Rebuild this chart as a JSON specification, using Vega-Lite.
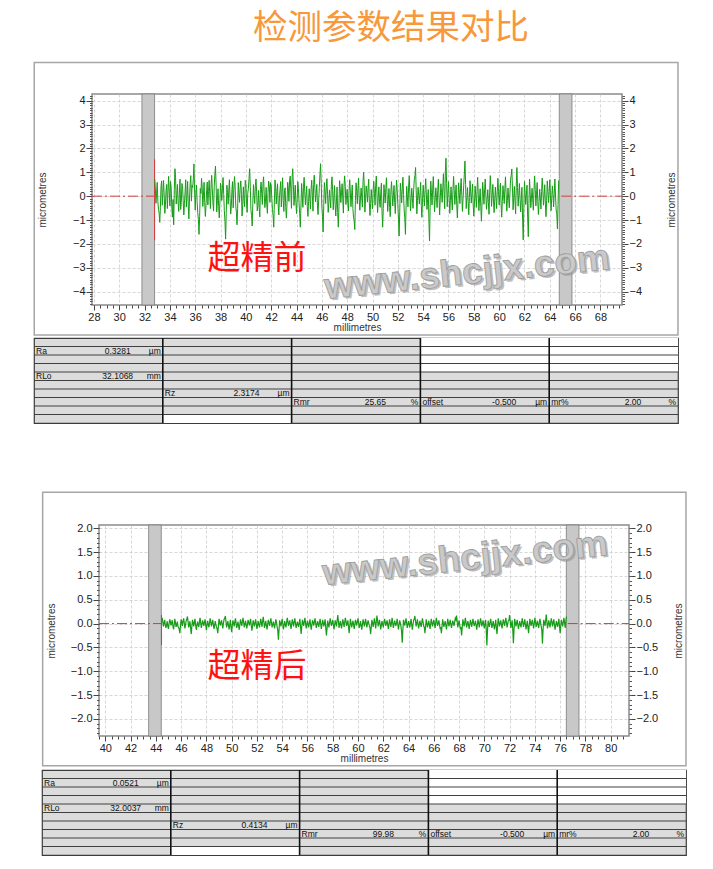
{
"$schema": "https://vega.github.io/schema/vega-lite/v6.json",
"background": "white",
"padding": {"left": 32, "top": 11, "right": 8, "bottom": 4},
"title": {"text": "检测参数结果对比", "font": "Noto Sans CJK SC", "fontSize": 34.5, "fontWeight": "normal", "color": "#F7983A", "anchor": "middle", "dx": 31, "offset": 14},
"config": {"view": {"stroke": null}, "font": "Liberation Sans", "axis": {"labelFont": "Liberation Sans", "titleFont": "Liberation Sans"}},
"datasets": {
"before": [
{"x":32.8,"y":0.72},{"x":32.9,"y":-0.30},{"x":33.0,"y":0.58},{"x":33.1,"y":-0.55},{"x":33.2,"y":-1.10},{"x":33.3,"y":0.41},{"x":33.4,"y":-0.38},{"x":33.5,"y":0.66},{"x":33.6,"y":-0.72},{"x":33.7,"y":0.25},
{"x":33.8,"y":-0.52},{"x":33.9,"y":0.83},{"x":34.0,"y":-0.41},{"x":34.1,"y":0.37},{"x":34.2,"y":-0.88},{"x":34.3,"y":-1.20},{"x":34.4,"y":1.15},{"x":34.5,"y":-0.33},{"x":34.6,"y":0.49},{"x":34.7,"y":-0.64},
{"x":34.8,"y":0.71},{"x":34.9,"y":-0.27},{"x":35.0,"y":0.44},{"x":35.1,"y":-0.79},{"x":35.2,"y":0.18},{"x":35.3,"y":-0.46},{"x":35.4,"y":0.62},{"x":35.5,"y":-0.95},{"x":35.6,"y":0.53},{"x":35.7,"y":-0.21},
{"x":35.8,"y":0.36},{"x":35.9,"y":1.35},{"x":36.0,"y":-0.58},{"x":36.1,"y":0.47},{"x":36.2,"y":-0.69},{"x":36.3,"y":-1.60},{"x":36.4,"y":0.32},{"x":36.5,"y":0.74},{"x":36.6,"y":-0.43},{"x":36.7,"y":0.58},
{"x":36.8,"y":-0.85},{"x":36.9,"y":0.22},{"x":37.0,"y":-0.37},{"x":37.1,"y":0.66},{"x":37.2,"y":-0.52},{"x":37.3,"y":0.87},{"x":37.4,"y":-0.29},{"x":37.5,"y":0.41},{"x":37.6,"y":1.26},{"x":37.7,"y":-0.66},
{"x":37.8,"y":0.31},{"x":37.9,"y":-0.91},{"x":38.0,"y":0.55},{"x":38.1,"y":-0.18},{"x":38.2,"y":0.78},{"x":38.3,"y":-0.61},{"x":38.4,"y":-1.80},{"x":38.5,"y":0.46},{"x":38.6,"y":-0.34},{"x":38.7,"y":0.69},
{"x":38.8,"y":-0.75},{"x":38.9,"y":0.27},{"x":39.0,"y":-0.49},{"x":39.1,"y":0.82},{"x":39.2,"y":-0.38},{"x":39.3,"y":-1.20},{"x":39.4,"y":0.57},{"x":39.5,"y":-0.26},{"x":39.6,"y":0.64},{"x":39.7,"y":-0.83},
{"x":39.8,"y":0.39},{"x":39.9,"y":-0.44},{"x":40.0,"y":0.51},{"x":40.1,"y":-0.68},{"x":40.2,"y":0.33},{"x":40.3,"y":1.15},{"x":40.4,"y":-0.57},{"x":40.5,"y":-1.25},{"x":40.6,"y":0.48},{"x":40.7,"y":-0.31},
{"x":40.8,"y":0.72},{"x":40.9,"y":-0.62},{"x":41.0,"y":0.24},{"x":41.1,"y":-0.87},{"x":41.2,"y":0.59},{"x":41.3,"y":-0.35},{"x":41.4,"y":0.81},{"x":41.5,"y":-0.48},{"x":41.6,"y":0.37},{"x":41.7,"y":-0.72},
{"x":41.8,"y":0.63},{"x":41.9,"y":-0.26},{"x":42.0,"y":0.45},{"x":42.1,"y":-0.56},{"x":42.2,"y":-1.30},{"x":42.3,"y":0.68},{"x":42.4,"y":-0.33},{"x":42.5,"y":0.52},{"x":42.6,"y":-0.79},{"x":42.7,"y":0.29},
{"x":42.8,"y":-0.45},{"x":42.9,"y":0.77},{"x":43.0,"y":-0.64},{"x":43.1,"y":0.35},{"x":43.2,"y":-0.92},{"x":43.3,"y":0.58},{"x":43.4,"y":-0.22},{"x":43.5,"y":0.84},{"x":43.6,"y":-0.51},{"x":43.7,"y":1.15},
{"x":43.8,"y":-0.39},{"x":43.9,"y":0.46},{"x":44.0,"y":-0.73},{"x":44.1,"y":0.61},{"x":44.2,"y":-0.28},{"x":44.3,"y":-1.30},{"x":44.4,"y":0.53},{"x":44.5,"y":-0.47},{"x":44.6,"y":0.79},{"x":44.7,"y":-0.36},
{"x":44.8,"y":0.42},{"x":44.9,"y":-0.85},{"x":45.0,"y":0.31},{"x":45.1,"y":-0.54},{"x":45.2,"y":0.67},{"x":45.3,"y":-0.63},{"x":45.4,"y":0.88},{"x":45.5,"y":-0.24},{"x":45.6,"y":0.49},{"x":45.7,"y":-0.77},
{"x":45.8,"y":0.36},{"x":45.9,"y":1.36},{"x":46.0,"y":-0.42},{"x":46.1,"y":-1.50},{"x":46.2,"y":0.57},{"x":46.3,"y":-0.31},{"x":46.4,"y":0.73},{"x":46.5,"y":-0.68},{"x":46.6,"y":0.26},{"x":46.7,"y":-0.49},
{"x":46.8,"y":0.81},{"x":46.9,"y":-0.57},{"x":47.0,"y":0.44},{"x":47.1,"y":-0.83},{"x":47.2,"y":0.38},{"x":47.3,"y":-1.30},{"x":47.4,"y":0.65},{"x":47.5,"y":-0.27},{"x":47.6,"y":0.52},{"x":47.7,"y":-0.71},
{"x":47.8,"y":0.85},{"x":47.9,"y":-0.35},{"x":48.0,"y":0.29},{"x":48.1,"y":-0.62},{"x":48.2,"y":0.69},{"x":48.3,"y":-0.44},{"x":48.4,"y":0.47},{"x":48.5,"y":-0.88},{"x":48.6,"y":-1.40},{"x":48.7,"y":0.56},
{"x":48.8,"y":-0.32},{"x":48.9,"y":0.76},{"x":49.0,"y":-0.59},{"x":49.1,"y":0.34},{"x":49.2,"y":-0.46},{"x":49.3,"y":1.00},{"x":49.4,"y":-0.67},{"x":49.5,"y":0.43},{"x":49.6,"y":-0.25},{"x":49.7,"y":0.71},
{"x":49.8,"y":-0.81},{"x":49.9,"y":0.28},{"x":50.0,"y":-0.53},{"x":50.1,"y":0.62},{"x":50.2,"y":-0.38},{"x":50.3,"y":0.84},{"x":50.4,"y":-0.69},{"x":50.5,"y":0.39},{"x":50.6,"y":-0.47},{"x":50.7,"y":0.55},
{"x":50.8,"y":-1.30},{"x":50.9,"y":0.48},{"x":51.0,"y":-0.29},{"x":51.1,"y":0.77},{"x":51.2,"y":-0.64},{"x":51.3,"y":0.32},{"x":51.4,"y":-0.86},{"x":51.5,"y":0.61},{"x":51.6,"y":-0.41},{"x":51.7,"y":0.45},
{"x":51.8,"y":-0.73},{"x":51.9,"y":0.67},{"x":52.0,"y":-0.36},{"x":52.1,"y":-1.67},{"x":52.2,"y":0.54},{"x":52.3,"y":-0.28},{"x":52.4,"y":0.79},{"x":52.5,"y":-0.58},{"x":52.6,"y":-1.60},{"x":52.7,"y":0.41},
{"x":52.8,"y":-0.45},{"x":52.9,"y":0.86},{"x":53.0,"y":-0.62},{"x":53.1,"y":0.33},{"x":53.2,"y":-0.51},{"x":53.3,"y":0.69},{"x":53.4,"y":1.20},{"x":53.5,"y":-0.74},{"x":53.6,"y":0.37},{"x":53.7,"y":-0.33},
{"x":53.8,"y":0.58},{"x":53.9,"y":-0.89},{"x":54.0,"y":0.46},{"x":54.1,"y":-0.41},{"x":54.2,"y":0.73},{"x":54.3,"y":-0.56},{"x":54.4,"y":0.28},{"x":54.5,"y":-1.88},{"x":54.6,"y":0.63},{"x":54.7,"y":-0.37},
{"x":54.8,"y":0.82},{"x":54.9,"y":-0.66},{"x":55.0,"y":0.35},{"x":55.1,"y":-0.48},{"x":55.2,"y":0.71},{"x":55.3,"y":-0.79},{"x":55.4,"y":0.52},{"x":55.5,"y":-0.26},{"x":55.6,"y":0.94},{"x":55.7,"y":-0.53},
{"x":55.8,"y":1.59},{"x":55.9,"y":-0.44},{"x":56.0,"y":0.61},{"x":56.1,"y":-0.72},{"x":56.2,"y":0.39},{"x":56.3,"y":-0.58},{"x":56.4,"y":0.83},{"x":56.5,"y":-0.35},{"x":56.6,"y":0.47},{"x":56.7,"y":-0.91},
{"x":56.8,"y":0.56},{"x":56.9,"y":-0.31},{"x":57.0,"y":0.74},{"x":57.1,"y":-0.64},{"x":57.2,"y":0.43},{"x":57.3,"y":1.47},{"x":57.4,"y":-0.52},{"x":57.5,"y":0.36},{"x":57.6,"y":-0.78},{"x":57.7,"y":0.65},
{"x":57.8,"y":-0.29},{"x":57.9,"y":0.51},{"x":58.0,"y":-0.84},{"x":58.1,"y":0.42},{"x":58.2,"y":-0.47},{"x":58.3,"y":0.79},{"x":58.4,"y":-0.61},{"x":58.5,"y":0.31},{"x":58.6,"y":-1.05},{"x":58.7,"y":0.58},
{"x":58.8,"y":-0.34},{"x":58.9,"y":0.72},{"x":59.0,"y":-0.55},{"x":59.1,"y":0.27},{"x":59.2,"y":-0.76},{"x":59.3,"y":0.86},{"x":59.4,"y":-0.43},{"x":59.5,"y":0.49},{"x":59.6,"y":-0.69},{"x":59.7,"y":0.38},
{"x":59.8,"y":-0.52},{"x":59.9,"y":0.75},{"x":60.0,"y":-0.37},{"x":60.1,"y":0.55},{"x":60.2,"y":-0.88},{"x":60.3,"y":0.44},{"x":60.4,"y":-0.31},{"x":60.5,"y":0.81},{"x":60.6,"y":-0.63},{"x":60.7,"y":0.34},
{"x":60.8,"y":-0.49},{"x":60.9,"y":0.68},{"x":61.0,"y":1.14},{"x":61.1,"y":-0.57},{"x":61.2,"y":0.41},{"x":61.3,"y":-0.74},{"x":61.4,"y":1.20},{"x":61.5,"y":-0.42},{"x":61.6,"y":0.53},{"x":61.7,"y":-0.66},
{"x":61.8,"y":0.37},{"x":61.9,"y":-1.83},{"x":62.0,"y":0.62},{"x":62.1,"y":-0.35},{"x":62.2,"y":0.46},{"x":62.3,"y":-1.70},{"x":62.4,"y":0.71},{"x":62.5,"y":-0.48},{"x":62.6,"y":0.33},{"x":62.7,"y":-0.59},
{"x":62.8,"y":0.85},{"x":62.9,"y":-0.41},{"x":63.0,"y":0.57},{"x":63.1,"y":-0.77},{"x":63.2,"y":0.29},{"x":63.3,"y":-0.54},{"x":63.4,"y":0.76},{"x":63.5,"y":-0.38},{"x":63.6,"y":0.48},{"x":63.7,"y":-0.86},
{"x":63.8,"y":0.64},{"x":63.9,"y":-0.27},{"x":64.0,"y":0.69},{"x":64.1,"y":-0.61},{"x":64.2,"y":0.43},{"x":64.3,"y":-0.45},{"x":64.4,"y":0.72},{"x":64.5,"y":-0.58},{"x":64.6,"y":-1.37},{"x":64.7,"y":0.66},
{"x":32.85,"y":0.35},{"x":32.95,"y":0.12},{"x":33.05,"y":-0.22},{"x":33.15,"y":-0.71},{"x":33.25,"y":-0.48},{"x":33.35,"y":0.64},{"x":33.45,"y":0.15},{"x":33.55,"y":0.05},{"x":33.65,"y":-0.33},{"x":33.75,"y":0.49},
{"x":33.85,"y":0.21},{"x":33.95,"y":0.17},{"x":34.05,"y":0.62},{"x":34.15,"y":-0.45},{"x":34.25,"y":-0.14},{"x":34.35,"y":0.28},{"x":34.45,"y":0.77},{"x":34.55,"y":0.08},{"x":34.65,"y":-0.29},{"x":34.75,"y":0.12},
{"x":34.85,"y":-0.56},{"x":34.95,"y":0.53},{"x":35.05,"y":-0.18},{"x":35.15,"y":-0.31},{"x":35.25,"y":0.69},{"x":35.35,"y":0.04},{"x":35.45,"y":-0.37},{"x":35.55,"y":-0.12},{"x":35.65,"y":0.86},{"x":35.75,"y":0.45},
{"x":35.85,"y":0.71},{"x":35.95,"y":0.26},{"x":36.05,"y":0.09},{"x":36.15,"y":-0.22},{"x":36.25,"y":-0.97},{"x":36.35,"y":-0.84},{"x":36.45,"y":0.11},{"x":36.55,"y":0.39},{"x":36.65,"y":0.02},{"x":36.75,"y":-0.28},
{"x":36.85,"y":-0.41},{"x":36.95,"y":0.59},{"x":37.05,"y":0.19},{"x":37.15,"y":0.05},{"x":37.25,"y":0.42},{"x":37.35,"y":0.31},{"x":37.45,"y":-0.63},{"x":37.55,"y":0.88},{"x":37.65,"y":0.47},{"x":37.75,"y":-0.19},
{"x":37.85,"y":-0.43},{"x":37.95,"y":-0.25},{"x":38.05,"y":0.21},{"x":38.15,"y":0.34},{"x":38.25,"y":0.07},{"x":38.35,"y":-1.05},{"x":38.45,"y":-0.72},{"x":38.55,"y":0.16},{"x":38.65,"y":0.23},{"x":38.75,"y":-0.11},
{"x":38.85,"y":-0.44},{"x":38.95,"y":0.61},{"x":39.05,"y":0.28},{"x":39.15,"y":0.46},{"x":39.25,"y":-0.67},{"x":39.35,"y":-0.52},{"x":39.45,"y":0.14},{"x":39.55,"y":0.35},{"x":39.65,"y":0.08},{"x":39.75,"y":-0.36},
{"x":39.85,"y":-0.17},{"x":39.95,"y":0.66},{"x":40.05,"y":-0.24},{"x":40.15,"y":0.12},{"x":40.25,"y":0.74},{"x":40.35,"y":0.39},{"x":40.45,"y":-0.81},{"x":40.55,"y":-0.29},{"x":40.65,"y":0.03},{"x":40.75,"y":0.44},
{"x":40.85,"y":0.18},{"x":40.95,"y":-0.38},{"x":41.05,"y":-0.46},{"x":41.15,"y":0.27},{"x":41.25,"y":0.11},{"x":41.35,"y":0.52},{"x":41.45,"y":0.09},{"x":41.55,"y":-0.21},{"x":41.65,"y":-0.33},{"x":41.75,"y":0.15},
{"x":41.85,"y":0.41},{"x":41.95,"y":0.57},{"x":42.05,"y":-0.12},{"x":42.15,"y":-0.82},{"x":42.25,"y":-0.25},{"x":42.35,"y":0.36},{"x":42.45,"y":0.19},{"x":42.55,"y":-0.35},{"x":42.65,"y":-0.08},{"x":42.75,"y":0.61},
{"x":42.85,"y":0.14},{"x":42.95,"y":-0.19},{"x":43.05,"y":0.22},{"x":43.15,"y":-0.47},{"x":43.25,"y":-0.28},{"x":43.35,"y":0.34},{"x":43.45,"y":0.63},{"x":43.55,"y":0.26},{"x":43.65,"y":0.79},{"x":43.75,"y":0.48},
{"x":43.85,"y":0.03},{"x":43.95,"y":-0.26},{"x":44.05,"y":-0.15},{"x":44.15,"y":0.32},{"x":44.25,"y":-0.74},{"x":44.35,"y":-0.41},{"x":44.45,"y":0.09},{"x":44.55,"y":0.37},{"x":44.65,"y":0.18},{"x":44.75,"y":0.05},
{"x":44.85,"y":-0.44},{"x":44.95,"y":-0.23},{"x":45.05,"y":-0.09},{"x":45.15,"y":0.29},{"x":45.25,"y":0.04},{"x":45.35,"y":0.49},{"x":45.45,"y":0.33},{"x":45.55,"y":0.11},{"x":45.65,"y":-0.38},{"x":45.75,"y":-0.16},
{"x":45.85,"y":0.92},{"x":45.95,"y":0.54},{"x":46.05,"y":-0.86},{"x":46.15,"y":-0.39},{"x":46.25,"y":0.21},{"x":46.35,"y":0.38},{"x":46.45,"y":0.06},{"x":46.55,"y":-0.27},{"x":46.65,"y":-0.13},{"x":46.75,"y":0.47},
{"x":46.85,"y":0.25},{"x":46.95,"y":-0.05},{"x":47.05,"y":-0.34},{"x":47.15,"y":-0.24},{"x":47.25,"y":-0.69},{"x":47.35,"y":-0.44},{"x":47.45,"y":0.31},{"x":47.55,"y":0.14},{"x":47.65,"y":-0.08},{"x":47.75,"y":0.43},
{"x":47.85,"y":0.39},{"x":47.95,"y":0.02},{"x":48.05,"y":-0.31},{"x":48.15,"y":0.24},{"x":48.25,"y":0.17},{"x":48.35,"y":0.05},{"x":48.45,"y":-0.52},{"x":48.55,"y":-1.02},{"x":48.65,"y":-0.18},{"x":48.75,"y":0.21},
{"x":48.85,"y":0.33},{"x":48.95,"y":-0.12},{"x":49.05,"y":-0.08},{"x":49.15,"y":-0.07},{"x":49.25,"y":0.62},{"x":49.35,"y":0.38},{"x":49.45,"y":-0.09},{"x":49.55,"y":0.16},{"x":49.65,"y":0.35},{"x":49.75,"y":-0.28},
{"x":49.85,"y":-0.31},{"x":49.95,"y":-0.14},{"x":50.05,"y":0.27},{"x":50.15,"y":0.12},{"x":50.25,"y":0.46},{"x":50.35,"y":0.09},{"x":50.45,"y":-0.07},{"x":50.55,"y":-0.21},{"x":50.65,"y":0.13},{"x":50.75,"y":-0.63},
{"x":50.85,"y":-0.52},{"x":50.95,"y":0.15},{"x":51.05,"y":0.32},{"x":51.15,"y":0.06},{"x":51.25,"y":-0.15},{"x":51.35,"y":-0.47},{"x":51.45,"y":0.18},{"x":51.55,"y":0.08},{"x":51.65,"y":0.04},{"x":51.75,"y":-0.26},
{"x":51.85,"y":0.12},{"x":51.95,"y":0.24},{"x":52.05,"y":-0.97},{"x":52.15,"y":-0.66},{"x":52.25,"y":0.19},{"x":52.35,"y":0.31},{"x":52.45,"y":0.07},{"x":52.55,"y":-0.91},{"x":52.65,"y":-0.45},{"x":52.75,"y":-0.03},
{"x":52.85,"y":0.38},{"x":52.95,"y":0.11},{"x":53.05,"y":-0.12},{"x":53.15,"y":-0.09},{"x":53.25,"y":0.27},{"x":53.35,"y":0.86},{"x":53.45,"y":0.22},{"x":53.55,"y":-0.18},{"x":53.65,"y":0.02},{"x":53.75,"y":0.14},
{"x":53.85,"y":-0.39},{"x":53.95,"y":-0.11},{"x":54.05,"y":0.05},{"x":54.15,"y":0.28},{"x":54.25,"y":0.09},{"x":54.35,"y":-0.13},{"x":54.45,"y":-0.95},{"x":54.55,"y":-0.48},{"x":54.65,"y":0.16},{"x":54.75,"y":0.29},
{"x":54.85,"y":0.06},{"x":54.95,"y":-0.12},{"x":55.05,"y":-0.05},{"x":55.15,"y":0.24},{"x":55.25,"y":-0.03},{"x":55.35,"y":-0.08},{"x":55.45,"y":0.15},{"x":55.55,"y":0.37},{"x":55.65,"y":0.21},{"x":55.75,"y":1.02},
{"x":55.85,"y":0.53},{"x":55.95,"y":0.09},{"x":56.05,"y":-0.06},{"x":56.15,"y":-0.17},{"x":56.25,"y":-0.12},{"x":56.35,"y":0.23},{"x":56.45,"y":0.28},{"x":56.55,"y":0.07},{"x":56.65,"y":-0.36},{"x":56.75,"y":-0.19},
{"x":56.85,"y":0.14},{"x":56.95,"y":0.32},{"x":57.05,"y":0.03},{"x":57.15,"y":-0.11},{"x":57.25,"y":0.92},{"x":57.35,"y":0.49},{"x":57.45,"y":-0.07},{"x":57.55,"y":-0.22},{"x":57.65,"y":-0.06},{"x":57.75,"y":0.18},
{"x":57.85,"y":0.11},{"x":57.95,"y":-0.37},{"x":58.05,"y":-0.29},{"x":58.15,"y":0.02},{"x":58.25,"y":0.19},{"x":58.35,"y":0.08},{"x":58.45,"y":-0.12},{"x":58.55,"y":-0.43},{"x":58.65,"y":-0.24},{"x":58.75,"y":0.13},
{"x":58.85,"y":0.26},{"x":58.95,"y":0.04},{"x":59.05,"y":-0.14},{"x":59.15,"y":-0.27},{"x":59.25,"y":0.17},{"x":59.35,"y":0.29},{"x":59.45,"y":0.03},{"x":59.55,"y":-0.11},{"x":59.65,"y":-0.16},{"x":59.75,"y":-0.07},
{"x":59.85,"y":0.22},{"x":59.95,"y":0.19},{"x":60.05,"y":0.08},{"x":60.15,"y":-0.29},{"x":60.25,"y":-0.22},{"x":60.35,"y":0.06},{"x":60.45,"y":0.33},{"x":60.55,"y":0.12},{"x":60.65,"y":-0.18},{"x":60.75,"y":-0.09},
{"x":60.85,"y":0.13},{"x":60.95,"y":0.87},{"x":61.05,"y":0.35},{"x":61.15,"y":-0.07},{"x":61.25,"y":-0.21},{"x":61.35,"y":0.41},{"x":61.45,"y":0.36},{"x":61.55,"y":0.03},{"x":61.65,"y":-0.14},{"x":61.75,"y":-0.08},
{"x":61.85,"y":-0.96},{"x":61.95,"y":-0.49},{"x":62.05,"y":0.14},{"x":62.15,"y":0.06},{"x":62.25,"y":-0.88},{"x":62.35,"y":-0.31},{"x":62.45,"y":0.13},{"x":62.55,"y":-0.09},{"x":62.65,"y":-0.15},{"x":62.75,"y":0.24},
{"x":62.85,"y":0.27},{"x":62.95,"y":0.08},{"x":63.05,"y":-0.21},{"x":63.15,"y":-0.26},{"x":63.25,"y":-0.08},{"x":63.35,"y":0.19},{"x":63.45,"y":0.22},{"x":63.55,"y":0.04},{"x":63.65,"y":-0.33},{"x":63.75,"y":-0.17},
{"x":63.85,"y":0.21},{"x":63.95,"y":0.18},{"x":64.05,"y":0.02},{"x":64.15,"y":-0.09},{"x":64.25,"y":0.07},{"x":64.35,"y":0.11},{"x":64.45,"y":0.05},{"x":64.55,"y":-0.74},{"x":64.65,"y":-0.35}
],
"after": [
{"x":44.5,"y":0.12},{"x":44.6,"y":-0.06},{"x":44.7,"y":0.08},{"x":44.8,"y":-0.09},{"x":44.9,"y":0.05},{"x":45.0,"y":-0.11},{"x":45.1,"y":0.09},{"x":45.2,"y":-0.04},{"x":45.3,"y":0.07},{"x":45.4,"y":-0.12},
{"x":45.5,"y":0.10},{"x":45.6,"y":-0.07},{"x":45.7,"y":0.04},{"x":45.8,"y":-0.08},{"x":45.9,"y":-0.20},{"x":46.0,"y":0.09},{"x":46.1,"y":-0.05},{"x":46.2,"y":0.11},{"x":46.3,"y":-0.10},{"x":46.4,"y":0.06},
{"x":46.5,"y":0.15},{"x":46.6,"y":-0.08},{"x":46.7,"y":0.05},{"x":46.8,"y":-0.22},{"x":46.9,"y":0.08},{"x":47.0,"y":-0.06},{"x":47.1,"y":0.10},{"x":47.2,"y":-0.13},{"x":47.3,"y":0.04},{"x":47.4,"y":-0.07},
{"x":47.5,"y":0.12},{"x":47.6,"y":-0.09},{"x":47.7,"y":0.07},{"x":47.8,"y":-0.05},{"x":47.9,"y":0.09},{"x":48.0,"y":-0.14},{"x":48.1,"y":0.06},{"x":48.2,"y":-0.08},{"x":48.3,"y":0.11},{"x":48.4,"y":-0.06},
{"x":48.5,"y":0.08},{"x":48.6,"y":-0.11},{"x":48.7,"y":0.05},{"x":48.8,"y":-0.07},{"x":48.9,"y":-0.20},{"x":49.0,"y":0.10},{"x":49.1,"y":-0.04},{"x":49.2,"y":0.07},{"x":49.3,"y":-0.10},{"x":49.4,"y":0.09},
{"x":49.5,"y":0.16},{"x":49.6,"y":-0.08},{"x":49.7,"y":0.05},{"x":49.8,"y":-0.12},{"x":49.9,"y":0.08},{"x":50.0,"y":-0.18},{"x":50.1,"y":0.07},{"x":50.2,"y":-0.06},{"x":50.3,"y":0.11},{"x":50.4,"y":-0.09},
{"x":50.5,"y":0.04},{"x":50.6,"y":-0.13},{"x":50.7,"y":0.09},{"x":50.8,"y":-0.05},{"x":50.9,"y":0.12},{"x":51.0,"y":-0.08},{"x":51.1,"y":0.06},{"x":51.2,"y":-0.10},{"x":51.3,"y":0.08},{"x":51.4,"y":-0.04},
{"x":51.5,"y":0.10},{"x":51.6,"y":-0.15},{"x":51.7,"y":0.07},{"x":51.8,"y":-0.06},{"x":51.9,"y":0.09},{"x":52.0,"y":-0.11},{"x":52.1,"y":0.05},{"x":52.2,"y":-0.08},{"x":52.3,"y":0.10},{"x":52.4,"y":-0.07},
{"x":52.5,"y":0.14},{"x":52.6,"y":-0.09},{"x":52.7,"y":0.06},{"x":52.8,"y":-0.12},{"x":52.9,"y":0.08},{"x":53.0,"y":-0.05},{"x":53.1,"y":0.11},{"x":53.2,"y":-0.08},{"x":53.3,"y":0.04},{"x":53.4,"y":-0.10},
{"x":53.5,"y":0.09},{"x":53.6,"y":-0.07},{"x":53.7,"y":-0.34},{"x":53.8,"y":0.07},{"x":53.9,"y":-0.06},{"x":54.0,"y":0.10},{"x":54.1,"y":-0.12},{"x":54.2,"y":0.05},{"x":54.3,"y":-0.08},{"x":54.4,"y":0.12},
{"x":54.5,"y":-0.05},{"x":54.6,"y":0.07},{"x":54.7,"y":-0.11},{"x":54.8,"y":0.09},{"x":54.9,"y":-0.06},{"x":55.0,"y":0.11},{"x":55.1,"y":-0.09},{"x":55.2,"y":0.04},{"x":55.3,"y":-0.07},{"x":55.4,"y":0.10},
{"x":55.5,"y":-0.22},{"x":55.6,"y":0.08},{"x":55.7,"y":-0.05},{"x":55.8,"y":0.12},{"x":55.9,"y":-0.10},{"x":56.0,"y":0.06},{"x":56.1,"y":-0.08},{"x":56.2,"y":0.09},{"x":56.3,"y":-0.13},{"x":56.4,"y":0.07},
{"x":56.5,"y":-0.04},{"x":56.6,"y":0.11},{"x":56.7,"y":-0.09},{"x":56.8,"y":0.05},{"x":56.9,"y":-0.07},{"x":57.0,"y":0.10},{"x":57.1,"y":-0.11},{"x":57.2,"y":0.08},{"x":57.3,"y":-0.06},{"x":57.4,"y":0.09},
{"x":57.5,"y":-0.25},{"x":57.6,"y":0.06},{"x":57.7,"y":-0.08},{"x":57.8,"y":0.11},{"x":57.9,"y":-0.05},{"x":58.0,"y":0.08},{"x":58.1,"y":-0.12},{"x":58.2,"y":0.07},{"x":58.3,"y":-0.06},{"x":58.4,"y":0.18},
{"x":58.5,"y":-0.09},{"x":58.6,"y":0.05},{"x":58.7,"y":-0.10},{"x":58.8,"y":0.09},{"x":58.9,"y":-0.07},{"x":59.0,"y":0.12},{"x":59.1,"y":-0.05},{"x":59.2,"y":0.07},{"x":59.3,"y":-0.20},{"x":59.4,"y":0.10},
{"x":59.5,"y":-0.08},{"x":59.6,"y":0.06},{"x":59.7,"y":-0.11},{"x":59.8,"y":0.08},{"x":59.9,"y":-0.04},{"x":60.0,"y":0.11},{"x":60.1,"y":-0.09},{"x":60.2,"y":0.05},{"x":60.3,"y":-0.13},{"x":60.4,"y":0.09},
{"x":60.5,"y":-0.06},{"x":60.6,"y":0.10},{"x":60.7,"y":-0.08},{"x":60.8,"y":0.07},{"x":60.9,"y":-0.05},{"x":61.0,"y":-0.22},{"x":61.1,"y":0.08},{"x":61.2,"y":-0.07},{"x":61.3,"y":0.11},{"x":61.4,"y":-0.10},
{"x":61.5,"y":0.17},{"x":61.6,"y":-0.06},{"x":61.7,"y":0.08},{"x":61.8,"y":-0.12},{"x":61.9,"y":0.05},{"x":62.0,"y":-0.08},{"x":62.1,"y":0.10},{"x":62.2,"y":-0.05},{"x":62.3,"y":0.07},{"x":62.4,"y":-0.11},
{"x":62.5,"y":0.09},{"x":62.6,"y":-0.07},{"x":62.7,"y":0.12},{"x":62.8,"y":-0.09},{"x":62.9,"y":0.06},{"x":63.0,"y":-0.05},{"x":63.1,"y":0.10},{"x":63.2,"y":-0.12},{"x":63.3,"y":0.07},{"x":63.4,"y":-0.06},
{"x":63.5,"y":-0.40},{"x":63.6,"y":0.08},{"x":63.7,"y":-0.04},{"x":63.8,"y":0.11},{"x":63.9,"y":-0.09},{"x":64.0,"y":0.05},{"x":64.1,"y":-0.08},{"x":64.2,"y":0.10},{"x":64.3,"y":-0.13},{"x":64.4,"y":0.07},
{"x":64.5,"y":0.16},{"x":64.6,"y":-0.06},{"x":64.7,"y":0.09},{"x":64.8,"y":-0.10},{"x":64.9,"y":0.06},{"x":65.0,"y":-0.07},{"x":65.1,"y":0.11},{"x":65.2,"y":-0.05},{"x":65.3,"y":-0.20},{"x":65.4,"y":0.09},
{"x":65.5,"y":-0.08},{"x":65.6,"y":0.06},{"x":65.7,"y":-0.11},{"x":65.8,"y":0.10},{"x":65.9,"y":-0.06},{"x":66.0,"y":0.08},{"x":66.1,"y":-0.09},{"x":66.2,"y":0.12},{"x":66.3,"y":-0.05},{"x":66.4,"y":0.07},
{"x":66.5,"y":-0.10},{"x":66.6,"y":-0.20},{"x":66.7,"y":0.09},{"x":66.8,"y":-0.07},{"x":66.9,"y":0.05},{"x":67.0,"y":-0.12},{"x":67.1,"y":0.10},{"x":67.2,"y":-0.06},{"x":67.3,"y":0.08},{"x":67.4,"y":-0.09},
{"x":67.5,"y":0.06},{"x":67.6,"y":-0.05},{"x":67.7,"y":0.11},{"x":67.8,"y":0.17},{"x":67.9,"y":-0.08},{"x":68.0,"y":0.07},{"x":68.1,"y":-0.10},{"x":68.2,"y":-0.25},{"x":68.3,"y":0.09},{"x":68.4,"y":-0.06},
{"x":68.5,"y":0.12},{"x":68.6,"y":-0.08},{"x":68.7,"y":0.05},{"x":68.8,"y":-0.11},{"x":68.9,"y":0.08},{"x":69.0,"y":-0.07},{"x":69.1,"y":0.10},{"x":69.2,"y":-0.05},{"x":69.3,"y":0.06},{"x":69.4,"y":-0.13},
{"x":69.5,"y":0.09},{"x":69.6,"y":-0.08},{"x":69.7,"y":0.11},{"x":69.8,"y":-0.06},{"x":69.9,"y":0.07},{"x":70.0,"y":-0.10},{"x":70.1,"y":0.08},{"x":70.2,"y":-0.46},{"x":70.3,"y":0.06},{"x":70.4,"y":-0.07},
{"x":70.5,"y":0.10},{"x":70.6,"y":-0.09},{"x":70.7,"y":0.05},{"x":70.8,"y":-0.12},{"x":70.9,"y":0.08},{"x":71.0,"y":-0.22},{"x":71.1,"y":0.11},{"x":71.2,"y":-0.06},{"x":71.3,"y":0.07},{"x":71.4,"y":-0.10},
{"x":71.5,"y":0.09},{"x":71.6,"y":-0.05},{"x":71.7,"y":0.12},{"x":71.8,"y":-0.08},{"x":71.9,"y":0.06},{"x":72.0,"y":0.18},{"x":72.1,"y":-0.09},{"x":72.2,"y":0.07},{"x":72.3,"y":-0.41},{"x":72.4,"y":0.10},
{"x":72.5,"y":-0.06},{"x":72.6,"y":0.08},{"x":72.7,"y":-0.11},{"x":72.8,"y":0.05},{"x":72.9,"y":-0.08},{"x":73.0,"y":0.11},{"x":73.1,"y":-0.07},{"x":73.2,"y":0.09},{"x":73.3,"y":-0.12},{"x":73.4,"y":0.06},
{"x":73.5,"y":-0.20},{"x":73.6,"y":0.10},{"x":73.7,"y":-0.05},{"x":73.8,"y":0.08},{"x":73.9,"y":-0.10},{"x":74.0,"y":0.12},{"x":74.1,"y":-0.07},{"x":74.2,"y":0.06},{"x":74.3,"y":-0.09},{"x":74.4,"y":0.10},
{"x":74.5,"y":-0.06},{"x":74.6,"y":-0.42},{"x":74.7,"y":0.08},{"x":74.8,"y":-0.05},{"x":74.9,"y":0.19},{"x":75.0,"y":-0.10},{"x":75.1,"y":0.07},{"x":75.2,"y":-0.08},{"x":75.3,"y":0.11},{"x":75.4,"y":-0.06},
{"x":75.5,"y":0.09},{"x":75.6,"y":-0.13},{"x":75.7,"y":0.05},{"x":75.8,"y":-0.07},{"x":75.9,"y":0.10},{"x":76.0,"y":-0.20},{"x":76.1,"y":0.08},{"x":76.2,"y":-0.06},{"x":76.3,"y":0.12},{"x":76.4,"y":-0.09},
{"x":76.5,"y":0.15},
{"x":44.55,"y":0.03},{"x":44.65,"y":0.02},{"x":44.75,"y":-0.04},{"x":44.85,"y":-0.02},{"x":44.95,"y":-0.06},{"x":45.05,"y":0.01},{"x":45.15,"y":0.04},{"x":45.25,"y":0.02},{"x":45.35,"y":-0.05},{"x":45.45,"y":-0.03},
{"x":45.55,"y":0.02},{"x":45.65,"y":-0.02},{"x":45.75,"y":-0.06},{"x":45.85,"y":-0.12},{"x":45.95,"y":-0.04},{"x":46.05,"y":0.03},{"x":46.15,"y":0.05},{"x":46.25,"y":0.01},{"x":46.35,"y":-0.03},{"x":46.45,"y":0.09},
{"x":46.55,"y":0.04},{"x":46.65,"y":-0.02},{"x":46.75,"y":-0.09},{"x":46.85,"y":-0.06},{"x":46.95,"y":0.01},{"x":47.05,"y":0.03},{"x":47.15,"y":-0.03},{"x":47.25,"y":-0.05},{"x":47.35,"y":-0.02},{"x":47.45,"y":0.04},
{"x":47.55,"y":0.02},{"x":47.65,"y":-0.01},{"x":47.75,"y":0.01},{"x":47.85,"y":0.03},{"x":47.95,"y":-0.04},{"x":48.05,"y":-0.03},{"x":48.15,"y":-0.02},{"x":48.25,"y":0.02},{"x":48.35,"y":0.03},{"x":48.45,"y":0.01},
{"x":48.55,"y":-0.02},{"x":48.65,"y":-0.04},{"x":48.75,"y":-0.02},{"x":48.85,"y":-0.11},{"x":48.95,"y":-0.05},{"x":49.05,"y":0.03},{"x":49.15,"y":0.02},{"x":49.25,"y":-0.02},{"x":49.35,"y":0.01},{"x":49.45,"y":0.11},
{"x":49.55,"y":0.04},{"x":49.65,"y":-0.02},{"x":49.75,"y":-0.04},{"x":49.85,"y":-0.02},{"x":49.95,"y":-0.07},{"x":50.05,"y":-0.04},{"x":50.15,"y":0.01},{"x":50.25,"y":0.03},{"x":50.35,"y":0.01},{"x":50.45,"y":-0.03},
{"x":50.55,"y":-0.05},{"x":50.65,"y":-0.02},{"x":50.75,"y":0.02},{"x":50.85,"y":0.04},{"x":50.95,"y":0.02},{"x":51.05,"y":-0.01},{"x":51.15,"y":-0.02},{"x":51.25,"y":-0.01},{"x":51.35,"y":0.02},{"x":51.45,"y":0.03},
{"x":51.55,"y":-0.04},{"x":51.65,"y":-0.05},{"x":51.75,"y":0.01},{"x":51.85,"y":0.02},{"x":51.95,"y":-0.01},{"x":52.05,"y":-0.03},{"x":52.15,"y":-0.02},{"x":52.25,"y":0.01},{"x":52.35,"y":0.02},{"x":52.45,"y":0.05},
{"x":52.55,"y":0.03},{"x":52.65,"y":-0.02},{"x":52.75,"y":-0.04},{"x":52.85,"y":-0.02},{"x":52.95,"y":0.01},{"x":53.05,"y":0.03},{"x":53.15,"y":0.02},{"x":53.25,"y":-0.02},{"x":53.35,"y":-0.03},{"x":53.45,"y":0.01},
{"x":53.55,"y":0.02},{"x":53.65,"y":-0.14},{"x":53.75,"y":-0.13},{"x":53.85,"y":0.01},{"x":53.95,"y":0.02},{"x":54.05,"y":-0.01},{"x":54.15,"y":-0.04},{"x":54.25,"y":-0.02},{"x":54.35,"y":0.02},{"x":54.45,"y":0.04},
{"x":54.55,"y":0.01},{"x":54.65,"y":-0.02},{"x":54.75,"y":-0.01},{"x":54.85,"y":0.02},{"x":54.95,"y":0.03},{"x":55.05,"y":0.01},{"x":55.15,"y":-0.03},{"x":55.25,"y":-0.02},{"x":55.35,"y":0.02},{"x":55.45,"y":-0.06},
{"x":55.55,"y":-0.07},{"x":55.65,"y":0.02},{"x":55.75,"y":0.04},{"x":55.85,"y":0.01},{"x":55.95,"y":-0.02},{"x":56.05,"y":-0.01},{"x":56.15,"y":0.01},{"x":56.25,"y":-0.03},{"x":56.35,"y":-0.03},{"x":56.45,"y":0.02},
{"x":56.55,"y":0.04},{"x":56.65,"y":0.01},{"x":56.75,"y":-0.02},{"x":56.85,"y":-0.01},{"x":56.95,"y":0.02},{"x":57.05,"y":-0.01},{"x":57.15,"y":-0.02},{"x":57.25,"y":0.01},{"x":57.35,"y":0.02},{"x":57.45,"y":-0.09},
{"x":57.55,"y":-0.10},{"x":57.65,"y":-0.01},{"x":57.75,"y":0.02},{"x":57.85,"y":0.03},{"x":57.95,"y":0.01},{"x":58.05,"y":-0.02},{"x":58.15,"y":-0.03},{"x":58.25,"y":0.01},{"x":58.35,"y":0.07},{"x":58.45,"y":0.05},
{"x":58.55,"y":-0.02},{"x":58.65,"y":-0.03},{"x":58.75,"y":0.01},{"x":58.85,"y":0.01},{"x":58.95,"y":0.03},{"x":59.05,"y":0.04},{"x":59.15,"y":0.01},{"x":59.25,"y":-0.07},{"x":59.35,"y":-0.05},{"x":59.45,"y":0.01},
{"x":59.55,"y":-0.01},{"x":59.65,"y":-0.02},{"x":59.75,"y":-0.01},{"x":59.85,"y":0.02},{"x":59.95,"y":0.04},{"x":60.05,"y":0.01},{"x":60.15,"y":-0.04},{"x":60.25,"y":-0.04},{"x":60.35,"y":-0.02},{"x":60.45,"y":0.02},
{"x":60.55,"y":0.02},{"x":60.65,"y":0.01},{"x":60.75,"y":0.00},{"x":60.85,"y":0.01},{"x":60.95,"y":-0.08},{"x":61.05,"y":-0.07},{"x":61.15,"y":0.01},{"x":61.25,"y":0.02},{"x":61.35,"y":0.01},{"x":61.45,"y":0.04},
{"x":61.55,"y":0.06},{"x":61.65,"y":0.01},{"x":61.75,"y":-0.02},{"x":61.85,"y":-0.03},{"x":61.95,"y":-0.01},{"x":62.05,"y":0.01},{"x":62.15,"y":0.03},{"x":62.25,"y":0.01},{"x":62.35,"y":-0.02},{"x":62.45,"y":-0.01},
{"x":62.55,"y":0.01},{"x":62.65,"y":0.02},{"x":62.75,"y":0.01},{"x":62.85,"y":-0.01},{"x":62.95,"y":0.00},{"x":63.05,"y":0.02},{"x":63.15,"y":-0.01},{"x":63.25,"y":-0.03},{"x":63.35,"y":0.01},{"x":63.45,"y":-0.16},
{"x":63.55,"y":-0.14},{"x":63.65,"y":0.02},{"x":63.75,"y":0.03},{"x":63.85,"y":0.01},{"x":63.95,"y":-0.02},{"x":64.05,"y":-0.01},{"x":64.15,"y":0.01},{"x":64.25,"y":-0.02},{"x":64.35,"y":-0.03},{"x":64.45,"y":0.09},
{"x":64.55,"y":0.05},{"x":64.65,"y":0.01},{"x":64.75,"y":-0.01},{"x":64.85,"y":-0.02},{"x":64.95,"y":-0.01},{"x":65.05,"y":0.02},{"x":65.15,"y":0.03},{"x":65.25,"y":-0.08},{"x":65.35,"y":-0.06},{"x":65.45,"y":0.01},
{"x":65.55,"y":-0.01},{"x":65.65,"y":-0.02},{"x":65.75,"y":-0.01},{"x":65.85,"y":0.02},{"x":65.95,"y":0.01},{"x":66.05,"y":-0.01},{"x":66.15,"y":0.01},{"x":66.25,"y":0.04},{"x":66.35,"y":0.01},{"x":66.45,"y":-0.02},
{"x":66.55,"y":-0.09},{"x":66.65,"y":-0.06},{"x":66.75,"y":0.01},{"x":66.85,"y":-0.01},{"x":66.95,"y":-0.03},{"x":67.05,"y":-0.02},{"x":67.15,"y":0.02},{"x":67.25,"y":0.01},{"x":67.35,"y":-0.01},{"x":67.45,"y":-0.01},
{"x":67.55,"y":0.01},{"x":67.65,"y":0.03},{"x":67.75,"y":0.08},{"x":67.85,"y":0.05},{"x":67.95,"y":-0.01},{"x":68.05,"y":-0.02},{"x":68.15,"y":-0.09},{"x":68.25,"y":-0.08},{"x":68.35,"y":0.01},{"x":68.45,"y":0.03},
{"x":68.55,"y":0.02},{"x":68.65,"y":-0.01},{"x":68.75,"y":-0.03},{"x":68.85,"y":-0.01},{"x":68.95,"y":0.01},{"x":69.05,"y":0.02},{"x":69.15,"y":0.01},{"x":69.25,"y":0.00},{"x":69.35,"y":-0.04},{"x":69.45,"y":-0.02},
{"x":69.55,"y":0.01},{"x":69.65,"y":0.02},{"x":69.75,"y":0.03},{"x":69.85,"y":0.00},{"x":69.95,"y":-0.02},{"x":70.05,"y":-0.01},{"x":70.15,"y":-0.12},{"x":70.25,"y":-0.15},{"x":70.35,"y":-0.01},{"x":70.45,"y":0.02},
{"x":70.55,"y":0.01},{"x":70.65,"y":-0.02},{"x":70.75,"y":-0.04},{"x":70.85,"y":-0.02},{"x":70.95,"y":-0.08},{"x":71.05,"y":-0.05},{"x":71.15,"y":0.03},{"x":71.25,"y":0.01},{"x":71.35,"y":-0.02},{"x":71.45,"y":0.00},
{"x":71.55,"y":0.02},{"x":71.65,"y":0.04},{"x":71.75,"y":0.02},{"x":71.85,"y":-0.01},{"x":71.95,"y":0.07},{"x":72.05,"y":0.05},{"x":72.15,"y":-0.01},{"x":72.25,"y":-0.12},{"x":72.35,"y":-0.13},{"x":72.45,"y":0.02},
{"x":72.55,"y":0.01},{"x":72.65,"y":-0.02},{"x":72.75,"y":-0.03},{"x":72.85,"y":-0.02},{"x":72.95,"y":0.02},{"x":73.05,"y":0.02},{"x":73.15,"y":0.01},{"x":73.25,"y":-0.02},{"x":73.35,"y":-0.03},{"x":73.45,"y":-0.07},
{"x":73.55,"y":-0.05},{"x":73.65,"y":0.03},{"x":73.75,"y":0.02},{"x":73.85,"y":-0.01},{"x":73.95,"y":0.01},{"x":74.05,"y":0.03},{"x":74.15,"y":-0.01},{"x":74.25,"y":-0.02},{"x":74.35,"y":0.01},{"x":74.45,"y":0.02},
{"x":74.55,"y":-0.14},{"x":74.65,"y":-0.12},{"x":74.75,"y":0.02},{"x":74.85,"y":0.06},{"x":74.95,"y":0.04},{"x":75.05,"y":-0.02},{"x":75.15,"y":-0.01},{"x":75.25,"y":0.02},{"x":75.35,"y":0.03},{"x":75.45,"y":0.02},
{"x":75.55,"y":-0.03},{"x":75.65,"y":-0.04},{"x":75.75,"y":-0.01},{"x":75.85,"y":0.02},{"x":75.95,"y":-0.06},{"x":76.05,"y":-0.05},{"x":76.15,"y":0.01},{"x":76.25,"y":0.03},{"x":76.35,"y":0.02},{"x":76.45,"y":0.04}
],
"white1": [{"col":1,"row":9},{"col":3,"row":0},{"col":3,"row":1},{"col":3,"row":2},{"col":3,"row":3},{"col":4,"row":0},{"col":4,"row":1},{"col":4,"row":2},{"col":4,"row":3}],
"rowlines": [{"row":1},{"row":2},{"row":3},{"row":4},{"row":5},{"row":6},{"row":7},{"row":8},{"row":9}],
"collines": [{"col":1},{"col":2},{"col":3},{"col":4}],
"params1": [
{"col":0,"row":1,"name":"Ra","value":"0.3281","unit":"µm"},
{"col":0,"row":4,"name":"RLo","value":"32.1068","unit":"mm"},
{"col":1,"row":6,"name":"Rz","value":"2.3174","unit":"µm"},
{"col":2,"row":7,"name":"Rmr","value":"25.65","unit":"%"},
{"col":3,"row":7,"name":"offset","value":"-0.500","unit":"µm"},
{"col":4,"row":7,"name":"mr%","value":"2.00","unit":"%"}
],
"params2": [
{"col":0,"row":1,"name":"Ra","value":"0.0521","unit":"µm"},
{"col":0,"row":4,"name":"RLo","value":"32.0037","unit":"mm"},
{"col":1,"row":6,"name":"Rz","value":"0.4134","unit":"µm"},
{"col":2,"row":7,"name":"Rmr","value":"99.98","unit":"%"},
{"col":3,"row":7,"name":"offset","value":"-0.500","unit":"µm"},
{"col":4,"row":7,"name":"mr%","value":"2.00","unit":"%"}
]
},
"spacing": 65,
"vconcat": [
{"spacing": -1, "vconcat": [
 {"spacing": -3, "hconcat": [
  {"width": 1, "height": 1, "data": {"values": []}, "mark": "point", "view": {"stroke": null}},
  {"width": 530, "height": 211,
   "view": {"stroke": "#8a8a8a", "strokeWidth": 1.5},
   "resolve": {"axis": {"x": "independent", "y": "independent"}},
   "layer": [
    {"data": {"values": [{}]},
     "mark": {"type": "rect", "fill": "#ffffff", "fillOpacity": 0, "stroke": "#a6a6a6", "strokeWidth": 1.5},
     "encoding": {
      "x": {"datum": 23.29, "type": "quantitative", "axis": {"orient": "bottom", "tickCount": 84, "labels": false, "grid": false, "domain": false, "tickSize": 3, "tickColor": "#444", "title": null}},
      "x2": {"datum": 74.12},
      "y": {"datum": 5.6, "type": "quantitative", "axis": {"orient": "left", "tickCount": 88, "labels": false, "grid": false, "domain": false, "tickSize": 2.5, "tickColor": "#555", "title": null}},
      "y2": {"datum": -5.82}}},
    {"data": {"values": [{"start": 31.79, "end": 32.79}, {"start": 64.75, "end": 65.75}]},
     "mark": {"type": "rect", "fill": "#c8c8c8", "stroke": "#7a7a7a", "strokeWidth": 0.8},
     "encoding": {"x": {"field": "start", "type": "quantitative", "axis": null}, "x2": {"field": "end"}}},
    {"data": {"values": [{"from": 27.85, "to": 32.79}, {"from": 64.9, "to": 69.7}]},
     "mark": {"type": "rule", "color": "#d23c3c", "strokeWidth": 1, "strokeDash": [10, 3, 2, 3]},
     "encoding": {
      "x": {"field": "from", "type": "quantitative", "axis": null}, "x2": {"field": "to"},
      "y": {"datum": 0, "type": "quantitative", "axis": {"orient": "right", "values": [-4,-3,-2,-1,0,1,2,3,4], "grid": false, "domain": false, "tickSize": 6, "tickColor": "#444", "labelFontSize": 11, "labelColor": "#222", "labelPadding": 1, "labelFlush": false, "labelOverlap": false, "title": "micrometres", "titleAngle": 270, "titleFontSize": 10, "titleFontWeight": "normal", "titleColor": "#333", "titlePadding": 35}}}},
    {"data": {"values": [{}]},
     "mark": {"type": "rule", "color": "#d23c3c", "strokeWidth": 1},
     "encoding": {
      "x": {"datum": 32.79, "type": "quantitative", "axis": null},
      "y": {"datum": -1.85, "type": "quantitative", "axis": {"orient": "right", "tickCount": 88, "labels": false, "grid": false, "domain": false, "tickSize": 2.5, "tickColor": "#555", "title": null}},
      "y2": {"datum": 1.55}}},
    {"data": {"name": "before"},
     "mark": {"type": "line", "color": "#169c16", "strokeWidth": 1},
     "encoding": {
      "x": {"field": "x", "type": "quantitative", "scale": {"domain": [27.85, 69.7], "nice": false, "zero": false},
            "axis": {"orient": "bottom", "values": [28,30,32,34,36,38,40,42,44,46,48,50,52,54,56,58,60,62,64,66,68], "grid": true, "gridColor": "#cdcdcd", "gridDash": [3, 2], "gridWidth": 0.8, "domain": false, "tickSize": 5, "tickColor": "#444", "labelFontSize": 11, "labelColor": "#222", "labelPadding": 1, "labelFlush": false, "labelOverlap": false, "title": "millimetres", "titleFontSize": 10, "titleFontWeight": "normal", "titleColor": "#333", "titlePadding": 0}},
      "y": {"field": "y", "type": "quantitative", "scale": {"domain": [-4.56, 4.28], "nice": false, "zero": false},
            "axis": {"orient": "left", "values": [-4,-3,-2,-1,0,1,2,3,4], "grid": true, "gridColor": "#cdcdcd", "gridDash": [3, 2], "gridWidth": 0.8, "domain": false, "tickSize": 6, "tickColor": "#444", "labelFontSize": 11, "labelColor": "#222", "labelPadding": 1, "labelFlush": false, "labelOverlap": false, "title": "micrometres", "titleFontSize": 10, "titleFontWeight": "normal", "titleColor": "#333", "titlePadding": 25}}}},
    {"data": {"values": [{}]},
     "mark": {"type": "text", "text": "www.shcjjx.com", "font": "Liberation Sans", "fontWeight": "bold", "fontSize": 37, "angle": 354, "color": "#8e8e8e", "opacity": 0.55, "dx": 2, "dy": 2},
     "encoding": {"x": {"datum": 57.46, "type": "quantitative", "axis": null}, "y": {"datum": -3.22, "type": "quantitative", "axis": null}}},
    {"data": {"values": [{}]},
     "mark": {"type": "text", "text": "www.shcjjx.com", "font": "Liberation Sans", "fontWeight": "bold", "fontSize": 37, "angle": 354, "color": "#c9c9c9", "stroke": "#9c9c9c", "strokeWidth": 0.8},
     "encoding": {"x": {"datum": 57.46, "type": "quantitative", "axis": null}, "y": {"datum": -3.22, "type": "quantitative", "axis": null}}},
    {"data": {"values": [{}]},
     "mark": {"type": "text", "text": "超精前", "font": "Noto Sans CJK SC", "fontSize": 33, "color": "#ff1111"},
     "encoding": {"x": {"datum": 40.88, "type": "quantitative", "axis": null}, "y": {"datum": -2.63, "type": "quantitative", "axis": null}}}
   ]}
 ]},
 {"width": 644, "height": 85,
  "view": {"fill": "#dcdcdc", "stroke": "#3c3c3c", "strokeWidth": 1.2},
  "layer": [
   {"data": {"name": "white1"},
    "mark": {"type": "rect", "color": "#ffffff"},
    "encoding": {
     "x": {"field": "col", "type": "ordinal", "scale": {"domain": [0,1,2,3,4], "paddingInner": 0, "paddingOuter": 0}, "axis": null},
     "y": {"field": "row", "type": "ordinal", "scale": {"domain": [0,1,2,3,4,5,6,7,8,9], "paddingInner": 0, "paddingOuter": 0}, "axis": null}}},
   {"data": {"name": "rowlines"},
    "mark": {"type": "rule", "color": "#404040", "strokeWidth": 1.2},
    "encoding": {"y": {"field": "row", "type": "ordinal", "bandPosition": 0, "axis": null}}},
   {"data": {"name": "collines"},
    "mark": {"type": "rule", "color": "#111111", "strokeWidth": 1.6},
    "encoding": {"x": {"field": "col", "type": "ordinal", "bandPosition": 0, "axis": null}}},
   {"data": {"name": "params1"},
    "mark": {"type": "text", "align": "left", "dx": 2, "fontSize": 8.5, "color": "#111"},
    "encoding": {"x": {"field": "col", "type": "ordinal", "bandPosition": 0, "axis": null}, "y": {"field": "row", "type": "ordinal", "axis": null}, "text": {"field": "name"}}},
   {"data": {"name": "params1"},
    "mark": {"type": "text", "align": "center", "fontSize": 8.5, "color": "#111"},
    "encoding": {"x": {"field": "col", "type": "ordinal", "bandPosition": 0.65, "axis": null}, "y": {"field": "row", "type": "ordinal", "axis": null}, "text": {"field": "value"}}},
   {"data": {"name": "params1"},
    "mark": {"type": "text", "align": "right", "dx": -2, "fontSize": 8.5, "color": "#111"},
    "encoding": {"x": {"field": "col", "type": "ordinal", "bandPosition": 1, "axis": null}, "y": {"field": "row", "type": "ordinal", "axis": null}, "text": {"field": "unit"}}}
  ]}
]},
{"spacing": 0, "vconcat": [
 {"spacing": 0, "hconcat": [
  {"width": 7, "height": 1, "data": {"values": []}, "mark": "point", "view": {"stroke": null}},
  {"width": 530, "height": 211,
   "view": {"stroke": "#8a8a8a", "strokeWidth": 1.5},
   "resolve": {"axis": {"x": "independent", "y": "independent"}},
   "layer": [
    {"data": {"values": [{}]},
     "mark": {"type": "rect", "fill": "#ffffff", "fillOpacity": 0, "stroke": "#a6a6a6", "strokeWidth": 1.5},
     "encoding": {
      "x": {"datum": 35.04, "type": "quantitative", "axis": {"orient": "bottom", "tickCount": 84, "labels": false, "grid": false, "domain": false, "tickSize": 3, "tickColor": "#444", "title": null}},
      "x2": {"datum": 85.96},
      "y": {"datum": 2.757, "type": "quantitative", "axis": {"orient": "left", "tickCount": 44, "labels": false, "grid": false, "domain": false, "tickSize": 2.5, "tickColor": "#555", "title": null}},
      "y2": {"datum": -2.984}}},
    {"data": {"values": [{"start": 43.43, "end": 44.43}, {"start": 76.49, "end": 77.49}]},
     "mark": {"type": "rect", "fill": "#c8c8c8", "stroke": "#7a7a7a", "strokeWidth": 0.8},
     "encoding": {"x": {"field": "start", "type": "quantitative", "axis": null}, "x2": {"field": "end"}}},
    {"data": {"values": [{"from": 39.5, "to": 44.43}, {"from": 76.6, "to": 81.45}]},
     "mark": {"type": "rule", "color": "#d23c3c", "strokeWidth": 1, "strokeDash": [10, 3, 2, 3]},
     "encoding": {
      "x": {"field": "from", "type": "quantitative", "axis": null}, "x2": {"field": "to"},
      "y": {"datum": 0, "type": "quantitative", "axis": {"orient": "right", "values": [-2,-1.5,-1,-0.5,0,0.5,1,1.5,2], "format": ".1f", "grid": false, "domain": false, "tickSize": 6, "tickColor": "#444", "labelFontSize": 11, "labelColor": "#222", "labelPadding": 1, "labelFlush": false, "labelOverlap": false, "title": "micrometres", "titleAngle": 270, "titleFontSize": 10, "titleFontWeight": "normal", "titleColor": "#333", "titlePadding": 26}}}},
    {"data": {"values": [{}]},
     "mark": {"type": "rule", "color": "#d23c3c", "strokeWidth": 1},
     "encoding": {
      "x": {"datum": 44.45, "type": "quantitative", "axis": null},
      "y": {"datum": -0.45, "type": "quantitative", "axis": {"orient": "right", "tickCount": 44, "labels": false, "grid": false, "domain": false, "tickSize": 2.5, "tickColor": "#555", "title": null}},
      "y2": {"datum": 0.18}}},
    {"data": {"name": "after"},
     "mark": {"type": "line", "color": "#169c16", "strokeWidth": 1.2},
     "encoding": {
      "x": {"field": "x", "type": "quantitative", "scale": {"domain": [39.5, 81.45], "nice": false, "zero": false},
            "axis": {"orient": "bottom", "values": [40,42,44,46,48,50,52,54,56,58,60,62,64,66,68,70,72,74,76,78,80], "grid": true, "gridColor": "#cdcdcd", "gridDash": [3, 2], "gridWidth": 0.8, "domain": false, "tickSize": 5, "tickColor": "#444", "labelFontSize": 11, "labelColor": "#222", "labelPadding": 1, "labelFlush": false, "labelOverlap": false, "title": "millimetres", "titleFontSize": 10, "titleFontWeight": "normal", "titleColor": "#333", "titlePadding": 0}},
      "y": {"field": "y", "type": "quantitative", "scale": {"domain": [-2.36, 2.07], "nice": false, "zero": false},
            "axis": {"orient": "left", "values": [-2,-1.5,-1,-0.5,0,0.5,1,1.5,2], "format": ".1f", "grid": true, "gridColor": "#cdcdcd", "gridDash": [3, 2], "gridWidth": 0.8, "domain": false, "tickSize": 6, "tickColor": "#444", "labelFontSize": 11, "labelColor": "#222", "labelPadding": 1, "labelFlush": false, "labelOverlap": false, "title": "micrometres", "titleFontSize": 10, "titleFontWeight": "normal", "titleColor": "#333", "titlePadding": 14}}}},
    {"data": {"values": [{}]},
     "mark": {"type": "text", "text": "www.shcjjx.com", "font": "Liberation Sans", "fontWeight": "bold", "fontSize": 37, "angle": 354, "color": "#8e8e8e", "opacity": 0.55, "dx": 2, "dy": 2},
     "encoding": {"x": {"datum": 68.47, "type": "quantitative", "axis": null}, "y": {"datum": 1.356, "type": "quantitative", "axis": null}}},
    {"data": {"values": [{}]},
     "mark": {"type": "text", "text": "www.shcjjx.com", "font": "Liberation Sans", "fontWeight": "bold", "fontSize": 37, "angle": 354, "color": "#c9c9c9", "stroke": "#9c9c9c", "strokeWidth": 0.8},
     "encoding": {"x": {"datum": 68.47, "type": "quantitative", "axis": null}, "y": {"datum": 1.356, "type": "quantitative", "axis": null}}},
    {"data": {"values": [{}]},
     "mark": {"type": "text", "text": "超精后", "font": "Noto Sans CJK SC", "fontSize": 33, "color": "#ff1111"},
     "encoding": {"x": {"datum": 52.0, "type": "quantitative", "axis": null}, "y": {"datum": -0.91, "type": "quantitative", "axis": null}}}
   ]}
 ]},
 {"spacing": 0, "hconcat": [
  {"width": 6, "height": 1, "data": {"values": []}, "mark": "point", "view": {"stroke": null}},
  {"width": 644, "height": 85,
   "view": {"fill": "#dcdcdc", "stroke": "#3c3c3c", "strokeWidth": 1.2},
   "layer": [
    {"data": {"name": "white1"},
     "mark": {"type": "rect", "color": "#ffffff"},
     "encoding": {
      "x": {"field": "col", "type": "ordinal", "scale": {"domain": [0,1,2,3,4], "paddingInner": 0, "paddingOuter": 0}, "axis": null},
      "y": {"field": "row", "type": "ordinal", "scale": {"domain": [0,1,2,3,4,5,6,7,8,9], "paddingInner": 0, "paddingOuter": 0}, "axis": null}}},
    {"data": {"name": "rowlines"},
     "mark": {"type": "rule", "color": "#404040", "strokeWidth": 1.2},
     "encoding": {"y": {"field": "row", "type": "ordinal", "bandPosition": 0, "axis": null}}},
    {"data": {"name": "collines"},
     "mark": {"type": "rule", "color": "#111111", "strokeWidth": 1.6},
     "encoding": {"x": {"field": "col", "type": "ordinal", "bandPosition": 0, "axis": null}}},
    {"data": {"name": "params2"},
     "mark": {"type": "text", "align": "left", "dx": 2, "fontSize": 8.5, "color": "#111"},
     "encoding": {"x": {"field": "col", "type": "ordinal", "bandPosition": 0, "axis": null}, "y": {"field": "row", "type": "ordinal", "axis": null}, "text": {"field": "name"}}},
    {"data": {"name": "params2"},
     "mark": {"type": "text", "align": "center", "fontSize": 8.5, "color": "#111"},
     "encoding": {"x": {"field": "col", "type": "ordinal", "bandPosition": 0.65, "axis": null}, "y": {"field": "row", "type": "ordinal", "axis": null}, "text": {"field": "value"}}},
    {"data": {"name": "params2"},
     "mark": {"type": "text", "align": "right", "dx": -2, "fontSize": 8.5, "color": "#111"},
     "encoding": {"x": {"field": "col", "type": "ordinal", "bandPosition": 1, "axis": null}, "y": {"field": "row", "type": "ordinal", "axis": null}, "text": {"field": "unit"}}}
   ]}
 ]}
]}
]
}
